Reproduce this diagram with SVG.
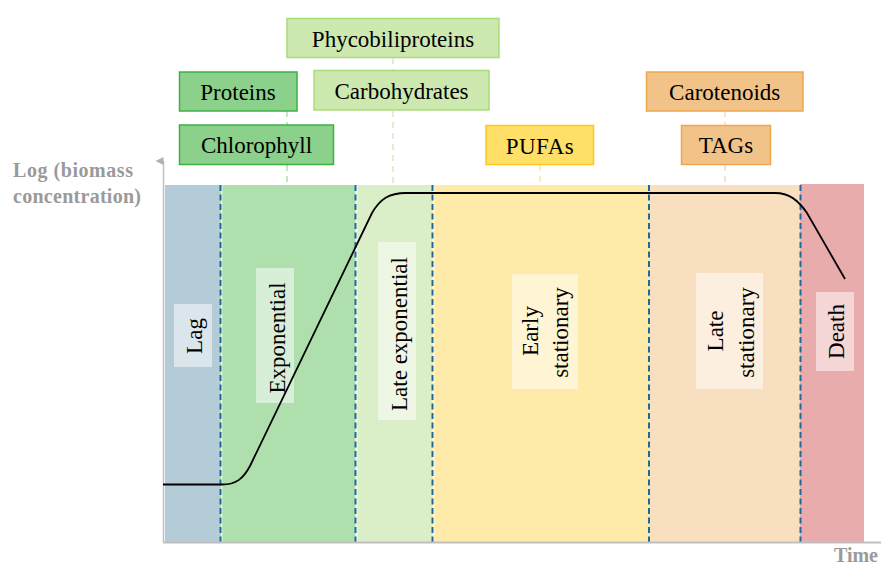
<svg xmlns="http://www.w3.org/2000/svg" width="881" height="568" viewBox="0 0 881 568">
<defs>
<style>
.t{font-family:"Liberation Serif","Times New Roman",serif;font-size:23px;fill:#000}
.ax{font-family:"Liberation Serif","Times New Roman",serif;font-weight:bold;fill:#9a9a9a}
.lb{fill:#ffffff;fill-opacity:0.5}
.sep{stroke:#1f6a9a;stroke-width:2;stroke-dasharray:6 3.5;fill:none}
.sepw{stroke:#ffffff;stroke-width:1;fill:none}
.g1{fill:#8bd08b;stroke:#3cb043;stroke-width:1.5}
.g2{fill:#cde9b0;stroke:#a9dc7a;stroke-width:1.5}
.y1{fill:#fedf68;stroke:#ffc81a;stroke-width:1.5}
.o1{fill:#f2c388;stroke:#eda84e;stroke-width:1.5}
.cn{fill:none;stroke-width:1.5;stroke-dasharray:6 5}
</style>
<marker id="arr" viewBox="0 0 10 10" refX="5" refY="10" markerWidth="8" markerHeight="8" orient="auto-start-reverse" markerUnits="userSpaceOnUse">
<path d="M0,10 L5,0 L10,10 Z" fill="#b0b0b0"/>
</marker>
</defs>
<rect width="881" height="568" fill="#ffffff"/>

<g id="bands">
<rect x="165" y="185" width="55" height="357" fill="#b4ccd8"/>
<rect x="220" y="185" width="135" height="357" fill="#b0dfae"/>
<rect x="355" y="185" width="77" height="357" fill="#daefc7"/>
<rect x="432" y="185" width="217" height="357" fill="#feeaa9"/>
<rect x="649" y="185" width="151" height="357" fill="#f8dfbf"/>
<rect x="800" y="184" width="64" height="358" fill="#e8acad"/>
</g>

<g id="separators">
<line class="sepw" x1="221.8" y1="185" x2="221.8" y2="542"/>
<line class="sepw" x1="356.8" y1="185" x2="356.8" y2="542"/>
<line class="sepw" x1="433.8" y1="185" x2="433.8" y2="542"/>
<line class="sep" x1="220.5" y1="185" x2="220.5" y2="542"/>
<line class="sep" x1="355.5" y1="185" x2="355.5" y2="542"/>
<line class="sep" x1="432.5" y1="185" x2="432.5" y2="542"/>
<line class="sep" x1="649" y1="185" x2="649" y2="542"/>
<line class="sep" x1="800.5" y1="185" x2="800.5" y2="542"/>
</g>

<g id="axes">
<line x1="163.5" y1="543" x2="163.5" y2="161" stroke="#bfbfbf" stroke-width="1.5" marker-end="url(#arr)"/>
<line x1="163" y1="542.5" x2="881" y2="542.5" stroke="#bfbfbf" stroke-width="1.8"/>
<text class="ax" x="13" y="177" font-size="20" textLength="120">Log (biomass</text>
<text class="ax" x="13" y="203" font-size="20" textLength="128">concentration)</text>
<text class="ax" x="878" y="562" font-size="20" text-anchor="end">Time</text>
</g>

<g id="phase-labels">
<g id="lag"><rect class="lb" x="174" y="304" width="38" height="63"/>
<text class="t" text-anchor="middle" transform="translate(201.5,336) rotate(-90)">Lag</text></g>
<g id="exponential"><rect class="lb" x="256" y="268" width="38" height="135"/>
<text class="t" text-anchor="middle" transform="translate(285,338) rotate(-90)">Exponential</text></g>
<g id="late-exponential"><rect class="lb" x="378" y="242" width="38" height="178"/>
<text class="t" text-anchor="middle" transform="translate(406.5,334) rotate(-90)">Late exponential</text></g>
<g id="early-stationary"><rect class="lb" x="512" y="274" width="66" height="115"/>
<text class="t" text-anchor="middle" transform="translate(538,331) rotate(-90)">Early</text>
<text class="t" text-anchor="middle" transform="translate(568,332.5) rotate(-90)">stationary</text></g>
<g id="late-stationary"><rect class="lb" x="696" y="273" width="67" height="116"/>
<text class="t" text-anchor="middle" transform="translate(723,331) rotate(-90)">Late</text>
<text class="t" text-anchor="middle" transform="translate(754,332.5) rotate(-90)">stationary</text></g>
<g id="death"><rect class="lb" x="816" y="292" width="38" height="79"/>
<text class="t" text-anchor="middle" transform="translate(844,331.5) rotate(-90)">Death</text></g>
</g>

<g id="growth-curve">
<path d="M163,484.5 L222,484.5 C236,484.5 243,479 250,466 L372,213 C380,199 389,193 406,193 L775,193 C789,193 798,200 807,213 L845,279" fill="none" stroke="#000" stroke-width="1.8"/>
</g>

<g id="connectors">
<line class="cn" stroke="#b0dfae" x1="287" y1="111" x2="287" y2="125"/>
<line class="cn" stroke="#b0dfae" x1="287" y1="165" x2="287" y2="185"/>
<line class="cn" stroke="#d4edc0" x1="393" y1="58" x2="393" y2="70"/>
<line class="cn" stroke="#d4edc0" x1="393" y1="111" x2="393" y2="185"/>
<line class="cn" stroke="#fbe7a0" x1="540" y1="165" x2="540" y2="185"/>
<line class="cn" stroke="#f8dcb8" x1="725" y1="111" x2="725" y2="125"/>
<line class="cn" stroke="#f8dcb8" x1="725" y1="165" x2="725" y2="185"/>
</g>

<g id="phycobiliproteins"><rect class="g2" x="287" y="18.5" width="212" height="39"/>
<text class="t" x="393" y="46.5" text-anchor="middle">Phycobiliproteins</text></g>
<g id="proteins"><rect class="g1" x="179.5" y="72" width="117.5" height="39"/>
<text class="t" x="238" y="99.5" text-anchor="middle">Proteins</text></g>
<g id="carbohydrates"><rect class="g2" x="314" y="70.5" width="175" height="39.5"/>
<text class="t" x="401.5" y="99" text-anchor="middle">Carbohydrates</text></g>
<g id="chlorophyll"><rect class="g1" x="179.5" y="125" width="154" height="39.5"/>
<text class="t" x="256.5" y="153" text-anchor="middle">Chlorophyll</text></g>
<g id="pufas"><rect class="y1" x="486" y="125.5" width="107.5" height="39"/>
<text class="t" x="540" y="153.5" text-anchor="middle" letter-spacing="0.5">PUFAs</text></g>
<g id="carotenoids"><rect class="o1" x="646.5" y="72" width="156.5" height="39"/>
<text class="t" x="724.7" y="99.5" text-anchor="middle">Carotenoids</text></g>
<g id="tags"><rect class="o1" x="681.5" y="125.5" width="89" height="39"/>
<text class="t" x="726" y="152.5" text-anchor="middle">TAGs</text></g>
</svg>
